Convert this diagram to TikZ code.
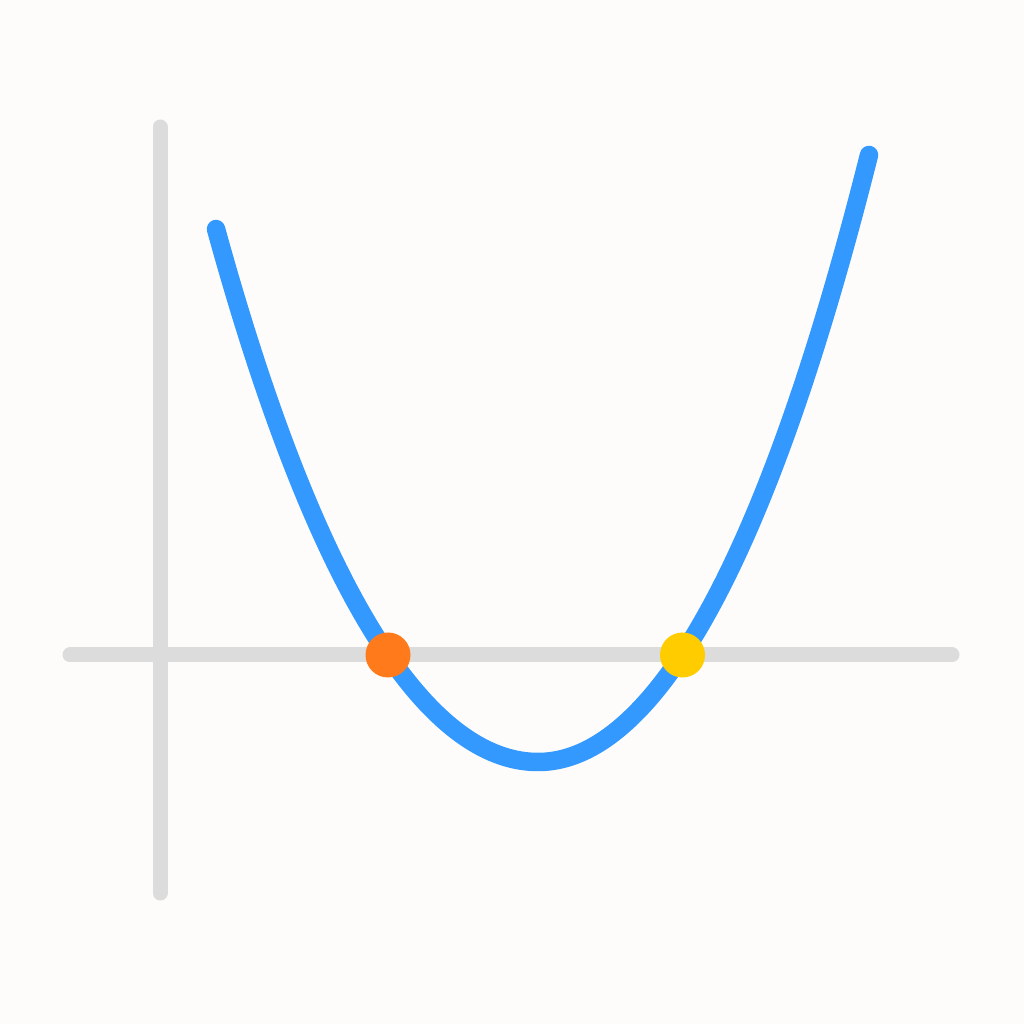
\documentclass[tikz,border=0pt]{standalone}
\definecolor{bgcol}{HTML}{FDFCFA}
\definecolor{axiscol}{HTML}{DCDCDC}
\definecolor{curvecol}{HTML}{3399FF}
\definecolor{rootA}{HTML}{FF7A1A}
\definecolor{rootB}{HTML}{FFCC00}
\begin{document}
\begin{tikzpicture}[x=1pt,y=1pt,
  axisline/.style={draw=axiscol,line width=15pt,line cap=round},
  curveline/.style={draw=curvecol,line width=18.5pt,line cap=round,line join=round},
  rootdot/.style={circle,inner sep=0pt,minimum size=45pt,draw=none}]
\fill[bgcol] (0,0) rectangle (1024,1024);
\useasboundingbox (0,0) rectangle (1024,1024);
% axes
\coordinate (xl) at (70,369);
\coordinate (xr) at (952,369);
\coordinate (yb) at (160,131);
\coordinate (yt) at (160,897);
\draw[axisline] (xl) -- (xr);
\draw[axisline] (yb) -- (yt);
% curve
\draw[curveline,variable=\t,samples=120]
  plot[domain=216:538] ({\t},{369+46.49*((\t-538)/100)^2+0.474*((\t-538)/100)^4-107})
  -- plot[domain=538:869] ({\t},{369+50.71*((\t-538)/100)^2+0.4285*((\t-538)/100)^4-107});
% roots
\node[rootdot,fill=rootA] (r1) at (388,369) {};
\node[rootdot,fill=rootB] (r2) at (682.5,369) {};
\end{tikzpicture}
\end{document}
